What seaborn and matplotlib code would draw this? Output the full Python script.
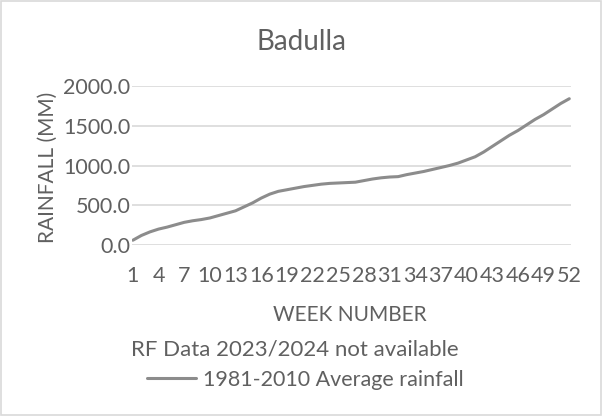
import numpy as np
import pandas as pd
import matplotlib
matplotlib.use("Agg")
import matplotlib.pyplot as plt
import seaborn as sns
from matplotlib.lines import Line2D
from matplotlib.patches import Rectangle

# ==========================
# Data
# ==========================
weeks = list(range(1, 53))
avg_rainfall = [60, 120, 165, 200, 225, 255, 285, 305, 320, 340,
                370, 400, 430, 480, 530, 590, 640, 675, 695, 715,
                735, 750, 765, 775, 780, 785, 790, 810, 830, 845,
                855, 860, 885, 905, 925, 950, 975, 1000, 1030, 1070,
                1110, 1170, 1240, 1310, 1380, 1440, 1510, 1580, 1640, 1710,
                1780, 1840]
x_ticks = list(range(1, 53, 3))
y_ticks = [0, 500, 1000, 1500, 2000]

df = pd.DataFrame({"week": weeks, "rainfall": avg_rainfall})

# ==========================
# Style
# ==========================
sns.set_style("white")
plt.rcParams["font.family"] = ["Lato", "DejaVu Sans"]
text_col = "#606060"
line_col = "#8c8c8c"

fig = plt.figure(figsize=(6.02, 4.16), dpi=100)
ax = fig.add_axes([132 / 602, 1 - 245 / 416, (571 - 132) / 602, (245 - 86) / 416])

sns.lineplot(data=df, x="week", y="rainfall", ax=ax, color=line_col, linewidth=2.2)

ax.set_xlim(0.9, 52.2)
ax.set_ylim(0, 2000)
ax.set_xticks(x_ticks)
ax.set_xticklabels([str(t) for t in x_ticks])
ax.set_yticks(y_ticks)
ax.set_yticklabels([f"{t:.1f}" for t in y_ticks])
ax.tick_params(axis="x", length=0, pad=15, labelsize=15.5, labelcolor=text_col)
ax.tick_params(axis="y", length=0, pad=1, labelsize=15.5, labelcolor=text_col)
ax.grid(axis="y", color="#d9d9d9", linewidth=1.2)
ax.grid(axis="x", visible=False)
for s in ax.spines.values():
    s.set_visible(False)

ax.set_xlabel("")
ax.set_ylabel("")
fig.text(48 / 602, 1 - 167 / 416, "RAINFALL (MM)", rotation=90, ha="center", va="center",
         fontsize=15, color=text_col)
fig.text(350 / 602, 1 - 315 / 416, "WEEK NUMBER", ha="center", va="center",
         fontsize=15, color=text_col)
fig.text(301 / 602, 1 - 42 / 416, "Badulla", ha="center", va="center",
         fontsize=20, color=text_col)
fig.text(295 / 602, 1 - 349 / 416, "RF Data 2023/2024 not available", ha="center", va="center",
         fontsize=16, color=text_col)

handle = Line2D([], [], color=line_col, linewidth=2.2)
fig.legend([handle], ["1981-2010 Average rainfall"], loc="center",
           bbox_to_anchor=(305 / 602, 1 - 380 / 416), frameon=False,
           fontsize=15.5, labelcolor=text_col, handlelength=2.3, handletextpad=0.3)

# chart border
fig.patches.append(Rectangle((0.002, 0.003), 0.996, 0.994, transform=fig.transFigure,
                             fill=False, edgecolor="#d9d9d9", linewidth=1.2))

fig.savefig("out.png", dpi=100)
